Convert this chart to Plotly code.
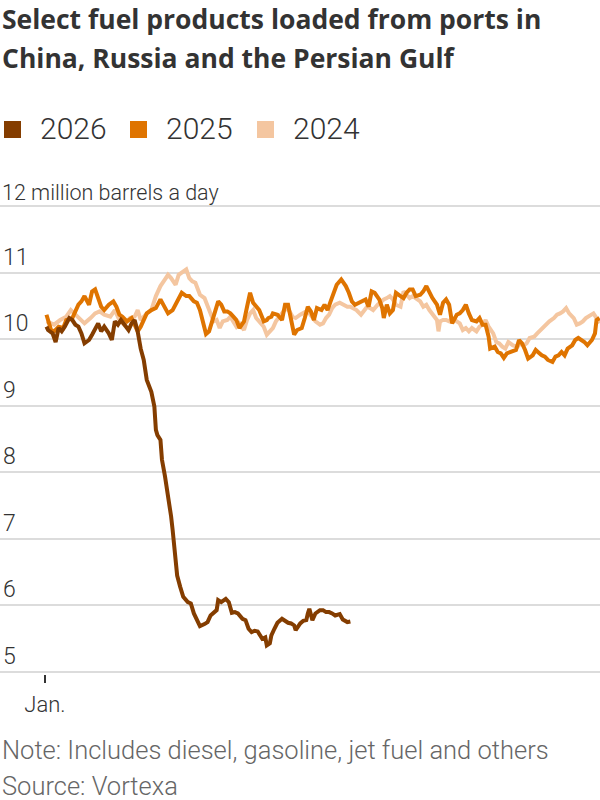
import plotly.graph_objects as go

# ---------------- data (day of year, million barrels a day) ----------------
days_2026 = [1, 2, 5, 7, 9, 11, 13, 16, 18, 20, 22, 24, 26, 29, 31, 33, 35, 37, 39, 42,
             44, 46, 48, 50, 52, 55, 57, 59, 61, 63, 65, 67, 70, 71, 72, 73, 74, 76, 77,
             79, 80, 82, 83, 84, 86, 87, 89, 91, 94, 96, 98, 100, 102, 105, 107, 109, 111,
             113, 114, 116, 119, 121, 123, 125, 127, 130, 132, 134, 136, 138, 140, 143,
             145, 146, 148, 149, 151, 153, 156, 158, 160, 162, 164, 165, 168, 170, 172,
             173, 174, 176, 178, 181, 183, 185, 187, 189, 191, 194, 196, 199, 201]
vals_2026 = [10.19, 10.14, 10.09, 9.96, 10.17, 10.12, 10.19, 10.32, 10.29, 10.22, 10.19,
             10.09, 9.94, 9.99, 10.07, 10.17, 10.24, 10.12, 10.19, 10.09, 9.99, 10.27,
             10.22, 10.29, 10.22, 10.14, 10.24, 10.29, 10.12, 9.86, 9.69, 9.39, 9.21, 9.09,
             8.99, 8.64, 8.56, 8.49, 8.19, 7.94, 7.79, 7.54, 7.34, 7.14, 6.68, 6.45, 6.28,
             6.13, 6.05, 6.03, 5.88, 5.78, 5.69, 5.72, 5.75, 5.85, 5.89, 5.93, 6.08, 6.05,
             6.10, 6.05, 5.89, 5.90, 5.88, 5.80, 5.78, 5.65, 5.60, 5.62, 5.61, 5.50, 5.52,
             5.40, 5.43, 5.55, 5.65, 5.74, 5.80, 5.77, 5.74, 5.73, 5.70, 5.63, 5.73, 5.77,
             5.78, 5.88, 5.95, 5.78, 5.88, 5.93, 5.93, 5.90, 5.90, 5.88, 5.85, 5.87, 5.79,
             5.75, 5.76]

days_2025 = [1, 4, 6, 9, 12, 14, 18, 20, 22, 24, 26, 29, 31, 33, 35, 37, 39, 42, 45, 47,
             49, 51, 54, 57, 59, 61, 63, 67, 70, 73, 76, 79, 81, 84, 88, 90, 93, 95, 98,
             100, 102, 105, 106, 108, 110, 112, 114, 116, 118, 120, 122, 124, 126, 128, 131,
             133, 135, 137, 139, 141, 144, 146, 147, 149, 150, 153, 156, 158, 160, 162, 164,
             166, 169, 171, 173, 175, 177, 179, 182, 184, 186, 188, 190, 192, 195, 198, 200,
             202, 204, 207, 209, 211, 213, 215, 217, 220, 222, 223, 225, 227, 229, 231, 234,
             236, 238, 240, 242, 244, 247, 249, 251, 253, 255, 258, 260, 262, 264, 266, 268,
             271, 273, 275, 277, 279, 281, 284, 286, 288, 290, 292, 293, 296, 298, 300, 302,
             304, 306, 310, 312, 314, 316, 318, 321, 323, 325, 327, 329, 331, 334, 336, 338,
             340, 342, 344, 347, 349, 351, 353, 355, 357, 360, 362, 363, 365]
vals_2025 = [10.37, 10.14, 10.12, 10.19, 10.17, 10.29, 10.32, 10.44, 10.52, 10.57, 10.65,
             10.52, 10.72, 10.75, 10.62, 10.49, 10.44, 10.52, 10.57, 10.49, 10.37, 10.34,
             10.27, 10.32, 10.22, 10.12, 10.19, 10.39, 10.44, 10.47, 10.60, 10.49, 10.39,
             10.44, 10.60, 10.70, 10.65, 10.65, 10.57, 10.55, 10.44, 10.19, 10.08, 10.12,
             10.27, 10.37, 10.57, 10.52, 10.42, 10.42, 10.39, 10.34, 10.29, 10.17, 10.27,
             10.49, 10.70, 10.55, 10.49, 10.44, 10.27, 10.29, 10.32, 10.34, 10.39, 10.37,
             10.29, 10.52, 10.52, 10.32, 10.07, 10.14, 10.17, 10.32, 10.49, 10.42, 10.29,
             10.47, 10.44, 10.52, 10.44, 10.57, 10.70, 10.82, 10.90, 10.80, 10.70, 10.57,
             10.52, 10.55, 10.57, 10.60, 10.49, 10.72, 10.70, 10.60, 10.47, 10.32, 10.52,
             10.39, 10.44, 10.70, 10.65, 10.62, 10.70, 10.75, 10.75, 10.65, 10.67, 10.72,
             10.80, 10.70, 10.62, 10.52, 10.37, 10.55, 10.60, 10.52, 10.24, 10.37, 10.39,
             10.44, 10.52, 10.39, 10.29, 10.27, 10.32, 10.22, 10.22, 10.04, 9.86, 9.89,
             9.81, 9.79, 9.72, 9.79, 9.81, 9.84, 9.99, 9.94, 9.84, 9.71, 9.76, 9.84, 9.80,
             9.76, 9.74, 9.69, 9.66, 9.74, 9.76, 9.81, 9.76, 9.86, 9.91, 9.99, 10.02, 9.99,
             9.96, 9.91, 9.99, 10.09, 10.29, 10.32]

days_2024 = [1, 6, 10, 14, 17, 20, 23, 26, 30, 33, 36, 39, 43, 46, 49, 52, 56, 59, 61, 63,
             67, 70, 73, 76, 79, 81, 83, 86, 88, 90, 93, 95, 97, 99, 101, 102, 105, 107,
             109, 111, 113, 115, 117, 120, 122, 124, 126, 128, 131, 133, 135, 137, 139, 141,
             144, 146, 148, 150, 152, 155, 157, 159, 161, 163, 165, 168, 170, 172, 174, 176,
             178, 181, 183, 185, 187, 189, 191, 194, 196, 199, 201, 203, 205, 208, 210, 212,
             214, 216, 219, 221, 223, 225, 227, 229, 231, 234, 236, 238, 240, 242, 245, 247,
             249, 251, 253, 255, 258, 259, 260, 262, 264, 266, 268, 271, 273, 275, 277, 279,
             281, 284, 286, 288, 290, 292, 295, 297, 299, 301, 303, 305, 308, 311, 313, 315,
             317, 319, 322, 324, 326, 328, 330, 332, 335, 337, 339, 341, 343, 345, 348, 350,
             352, 354, 356, 359, 361, 363, 365]
vals_2024 = [10.27, 10.22, 10.29, 10.34, 10.44, 10.37, 10.29, 10.24, 10.32, 10.39, 10.42,
             10.37, 10.34, 10.44, 10.29, 10.22, 10.32, 10.34, 10.44, 10.29, 10.39, 10.44,
             10.65, 10.80, 10.90, 10.97, 10.92, 10.82, 10.97, 11.00, 11.05, 10.92, 10.87,
             10.85, 10.72, 10.67, 10.62, 10.49, 10.37, 10.27, 10.29, 10.17, 10.27, 10.29,
             10.34, 10.27, 10.19, 10.24, 10.14, 10.29, 10.39, 10.44, 10.32, 10.27, 10.19,
             10.07, 10.12, 10.17, 10.27, 10.37, 10.42, 10.47, 10.42, 10.34, 10.32, 10.37,
             10.39, 10.42, 10.39, 10.34, 10.27, 10.22, 10.24, 10.32, 10.37, 10.47, 10.52,
             10.55, 10.52, 10.49, 10.49, 10.47, 10.44, 10.37, 10.44, 10.49, 10.47, 10.44,
             10.52, 10.57, 10.60, 10.62, 10.65, 10.60, 10.52, 10.49, 10.72, 10.67, 10.62,
             10.65, 10.60, 10.57, 10.49, 10.52, 10.44, 10.37, 10.29, 10.12, 10.27, 10.29,
             10.29, 10.27, 10.32, 10.27, 10.24, 10.14, 10.17, 10.12, 10.17, 10.12, 10.19,
             10.22, 10.29, 10.19, 10.09, 9.96, 9.94, 9.89, 9.86, 9.96, 9.91, 9.89, 9.94,
             9.91, 9.94, 10.02, 10.04, 10.09, 10.14, 10.19, 10.24, 10.27, 10.32, 10.37,
             10.39, 10.42, 10.47, 10.39, 10.32, 10.22, 10.24, 10.27, 10.32, 10.37, 10.39,
             10.32, 10.24]

series_names = ["2026", "2025", "2024"]
series_colors = {"2026": "#843d00", "2025": "#df7400", "2024": "#f4c6a0"}

y_tickvals = [5, 6, 7, 8, 9, 10, 11, 12]
y_ticktext = ["5", "6", "7", "8", "9", "10", "11", ""]
y_top_label = "12 million barrels a day"
x_tickvals = [0]
x_ticktext = ["Jan."]

title_lines = ["Select fuel products loaded from ports in",
               "China, Russia and the Persian Gulf"]
note_text = "Note: Includes diesel, gasoline, jet fuel and others"
source_text = "Source: Vortexa"

# ---------------- figure ----------------
W, H = 600, 800
M_T, M_B = 173, 126
PH = H - M_T - M_B


def py(px):
    """pixel row -> paper y"""
    return (H - M_B - px) / PH


def pxx(px):
    """pixel column -> paper x"""
    return px / W


SANS = "Roboto, 'Noto Sans', sans-serif"
TITLE_FONT = "'Open Sans', 'Noto Sans', sans-serif"

fig = go.Figure()
data = {"2024": (days_2024, vals_2024), "2025": (days_2025, vals_2025),
        "2026": (days_2026, vals_2026)}
for name in ["2024", "2025", "2026"]:
    d, v = data[name]
    fig.add_trace(go.Scatter(x=d, y=v, mode="lines", name=name, showlegend=False,
                             line=dict(color=series_colors[name], width=4),
                             hoverinfo="skip"))

fig.update_layout(
    width=W, height=H,
    margin=dict(l=0, r=0, t=M_T, b=M_B, pad=0),
    paper_bgcolor="white", plot_bgcolor="white",
    font=dict(family=SANS, color="#333333"),
    showlegend=False,
    xaxis=dict(range=[-29.6, 365.3], showgrid=False, zeroline=False, showline=False,
               tickmode="array", tickvals=x_tickvals, ticktext=x_ticktext,
               ticks="outside", ticklen=8, tickwidth=1.5, tickcolor="#333333",
               ticklabelstandoff=3,
               tickfont=dict(size=22, family=SANS, color="#333333", weight=300),
               fixedrange=True),
    yaxis=dict(range=[4.97, 12.5], showgrid=True, gridcolor="#dcdcdc", gridwidth=2,
               zeroline=False, showline=False, tickmode="array",
               tickvals=y_tickvals, ticktext=y_ticktext,
               ticklabelposition="inside top", ticks="",
               tickfont=dict(size=23, family=SANS, color="#333333", weight=300),
               fixedrange=True),
)

# legend: square swatches + labels
legend_x = [4, 130, 257]   # left edge of each swatch, px
shapes = []
annotations = []
for name, lx in zip(series_names, legend_x):
    shapes.append(dict(type="rect", xref="paper", yref="paper",
                       x0=pxx(lx), x1=pxx(lx + 17), y0=py(138), y1=py(121),
                       fillcolor=series_colors[name], line=dict(width=0)))
    annotations.append(dict(text=name, x=pxx(lx + 34), y=py(128), xref="paper",
                            yref="paper", xanchor="left", yanchor="middle",
                            showarrow=False,
                            font=dict(size=30, family=SANS, color="#333333", weight=300)))

# unit label sitting on the top gridline
annotations.append(dict(text=y_top_label, x=0, xref="paper", y=12, yref="y",
                        xanchor="left", yanchor="middle", yshift=14, showarrow=False,
                        font=dict(size=21.5, family=SANS, color="#333333", weight=300)))

for txt, ymid in [(title_lines[0], 19.2), (title_lines[1], 57.5)]:
    annotations.append(dict(text=f"<b>{txt}</b>", x=0, y=py(ymid), xref="paper",
                            yref="paper", xanchor="left", yanchor="middle",
                            showarrow=False,
                            font=dict(size=26.5, family=TITLE_FONT, color="#333333")))
for txt, ymid in [(note_text, 750), (source_text, 786)]:
    annotations.append(dict(text=txt, x=0, y=py(ymid), xref="paper", yref="paper",
                            xanchor="left", yanchor="middle", showarrow=False,
                            font=dict(size=25.5, family=SANS, color="#666666", weight=300)))
fig.update_layout(annotations=annotations, shapes=shapes)

fig.write_html("out.html")
